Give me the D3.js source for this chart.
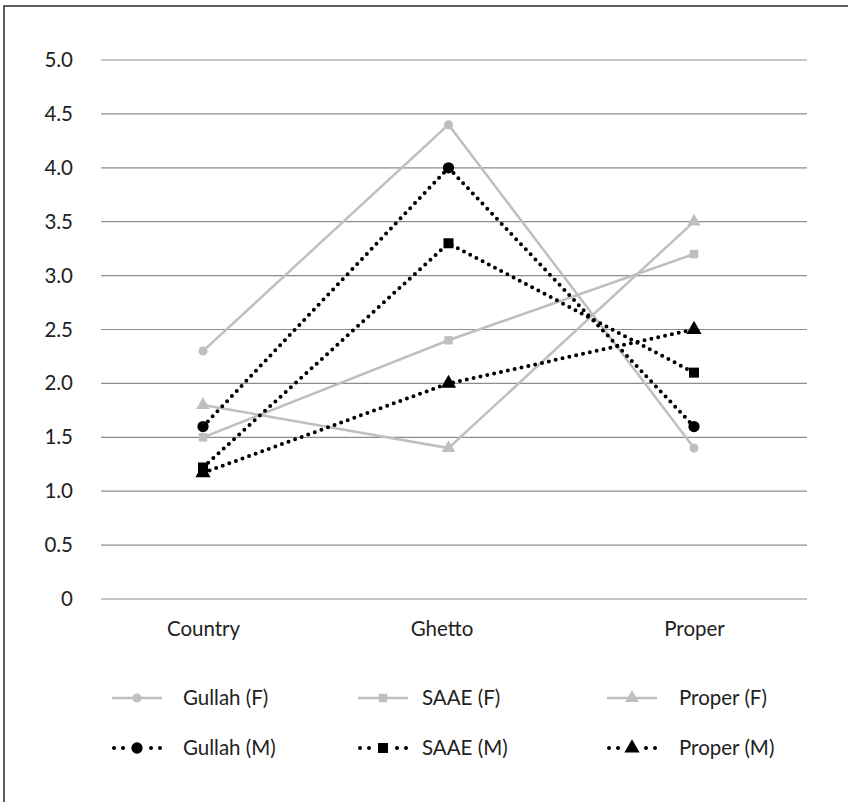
<!DOCTYPE html>
<html>
<head>
<meta charset="utf-8">
<script src="https://cdn.jsdelivr.net/npm/d3@7"></script>
<style>
  html, body { margin: 0; padding: 0; background: #fff; }
  svg { display: block; font-family: Lato, "Open Sans", sans-serif; }
</style>
</head>
<body>
<svg id="chart" width="848" height="802"></svg>
<script>
const categories = ["Country", "Ghetto", "Proper"];
const yTicks = [0, 0.5, 1.0, 1.5, 2.0, 2.5, 3.0, 3.5, 4.0, 4.5, 5.0];
const seriesNames = ["Gullah (F)", "SAAE (F)", "Proper (F)", "Gullah (M)", "SAAE (M)", "Proper (M)"];
const gullahF = [2.3, 4.4, 1.4];
const saaeF = [1.5, 2.4, 3.2];
const properF = [1.8, 1.4, 3.5];
const gullahM = [1.6, 4.0, 1.6];
const saaeM = [1.22, 3.3, 2.1];
const properM = [1.17, 2.0, 2.5];

const series = [
  { name: seriesNames[0], values: gullahF, sex: "F", shape: "circle" },
  { name: seriesNames[1], values: saaeF, sex: "F", shape: "square" },
  { name: seriesNames[2], values: properF, sex: "F", shape: "triangle" },
  { name: seriesNames[3], values: gullahM, sex: "M", shape: "circle" },
  { name: seriesNames[4], values: saaeM, sex: "M", shape: "square" },
  { name: seriesNames[5], values: properM, sex: "M", shape: "triangle" }
];

const FS = 20.5;
const svg = d3.select("#chart");
const plot = { left: 101, right: 807, top: 60, bottom: 599 };

// frame
svg.append("rect").attr("x", 4).attr("y", 6).attr("width", 900).attr("height", 900)
  .attr("fill", "none").attr("stroke", "#2a2a2a").attr("stroke-width", 1.5);

const y = d3.scaleLinear().domain([0, 5]).range([plot.bottom, plot.top]);
const x = d3.scalePoint().domain(categories).range([203, 694]);

// grid
svg.append("g").selectAll("line").data(yTicks).join("line")
  .attr("x1", plot.left).attr("x2", plot.right)
  .attr("y1", d => y(d)).attr("y2", d => y(d))
  .attr("stroke", "#8c8c8c").attr("stroke-width", 1.2);

// y axis labels
const yAxis = d3.axisLeft(y).tickValues(yTicks).tickSize(0).tickPadding(0)
  .tickFormat(d => d === 0 ? "0" : d3.format(".1f")(d));
const ya = svg.append("g").attr("transform", `translate(73,0)`).call(yAxis);
ya.select(".domain").remove();
ya.selectAll("text").attr("font-size", FS).attr("fill", "#222").attr("font-family", "Lato, sans-serif");

// x axis labels
const xAxis = d3.axisBottom(x).tickSize(0).tickPadding(0);
const xa = svg.append("g").attr("transform", `translate(0,${plot.bottom + 22})`).call(xAxis);
xa.select(".domain").remove();
xa.selectAll("text").attr("font-size", FS).attr("fill", "#222").attr("font-family", "Lato, sans-serif")
  .attr("dx", d => d === "Ghetto" ? -7 : 0);

const grey = "#bfbfbf";
const black = "#000";

function symbolFor(s) {
  const isM = s.sex === "M";
  if (s.shape === "circle") return d3.symbol(d3.symbolCircle, isM ? 100 : 65);
  if (s.shape === "square") return d3.symbol(d3.symbolSquare, isM ? 100 : 72);
  return d3.symbol(d3.symbolTriangle, isM ? 100 : 80);
}

const line = d3.line().x((d, i) => x(categories[i])).y(d => y(d));

series.forEach(s => {
  const isM = s.sex === "M";
  const g = svg.append("g");
  g.append("path").datum(s.values).attr("d", line)
    .attr("fill", "none")
    .attr("stroke", isM ? black : grey)
    .attr("stroke-width", isM ? 4 : 2.5)
    .attr("stroke-linecap", isM ? "round" : "butt")
    .attr("stroke-dasharray", isM ? "0 7" : null);
  g.selectAll("path.m").data(s.values).join("path").attr("class", "m")
    .attr("transform", (d, i) => `translate(${x(categories[i])},${y(d)})`)
    .attr("d", symbolFor(s)())
    .attr("fill", isM ? black : grey);
});

// legend
const legendCols = [112, 358, 607];
const legendTextX = [183, 422, 679];
const legendRows = [698, 748];
const legendDots = [2, 11, 39, 48];
series.forEach((s, i) => {
  const isM = s.sex === "M";
  const col = i % 3, row = isM ? 1 : 0;
  const lx = legendCols[col], ly = legendRows[row];
  const g = svg.append("g");
  const d = isM
    ? legendDots.map(o => `M${lx + o},${ly}h0.01`).join("")
    : `M${lx},${ly}H${lx + 50}`;
  g.append("path").attr("d", d)
    .attr("fill", "none")
    .attr("stroke", isM ? black : grey)
    .attr("stroke-width", isM ? 4 : 2.5)
    .attr("stroke-linecap", isM ? "round" : "butt");
  g.append("path").attr("transform", `translate(${lx + 25},${ly})`)
    .attr("d", symbolFor(s)()).attr("fill", isM ? black : grey);
  g.append("text").attr("x", legendTextX[col]).attr("y", ly).attr("dy", "0.35em")
    .attr("font-size", FS).attr("fill", "#222").text(s.name);
});
</script>
</body>
</html>
